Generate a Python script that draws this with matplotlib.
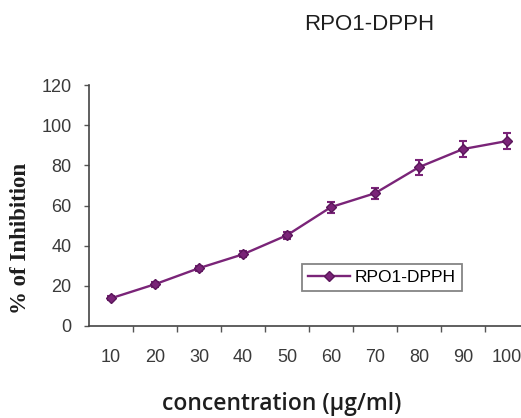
import numpy as np
import matplotlib
matplotlib.use('Agg')
import matplotlib.pyplot as plt

# data
concentration = ['10', '20', '30', '40', '50', '60', '70', '80', '90', '100']
inhibition = [13.8, 20.8, 28.8, 35.7, 45.2, 59.2, 66.1, 79.1, 88.1, 92.1]
errors = [1.0, 1.2, 1.3, 1.5, 1.8, 2.7, 2.7, 3.7, 3.9, 4.2]
series_name = 'RPO1-DPPH'

W, H = 521, 418
fig = plt.figure(figsize=(W / 100, H / 100), dpi=100)
ax = fig.add_axes([89 / W, (H - 326) / H, 440 / W, 241 / H])

x = np.arange(len(concentration))
purple = '#7a2478'
ax.errorbar(x, inhibition, yerr=errors, color=purple, marker='D', markersize=5,
            markeredgecolor='#5a165a', linewidth=1.7, elinewidth=1.5, capsize=3, capthick=1.5)
# legend handle without the error bar
ax.plot([], [], color=purple, marker='D', markersize=5, markeredgecolor='#5a165a',
        linewidth=1.7, label=series_name)

ax.set_xlim(-0.5, len(concentration) - 0.5)
ax.set_ylim(0, 120)
ax.set_yticks(np.arange(0, 121, 20))
ax.set_xticks(x)
ax.set_xticklabels(concentration, family='Liberation Sans')
ax.set_yticklabels([str(v) for v in range(0, 121, 20)], family='Liberation Sans')
ax.set_xticks(np.arange(0.5, len(concentration) - 0.5, 1), minor=True)
ax.tick_params(axis='x', which='major', length=0, pad=16.5, labelsize=13, labelcolor='#3a3a3a')
ax.tick_params(axis='x', which='minor', length=4.5, width=1, direction='out', color='#555555')
ax.tick_params(axis='y', length=3.5, width=1, direction='out', pad=9, labelsize=13,
               labelcolor='#3a3a3a', color='#555555')
for s in ['top', 'right']:
    ax.spines[s].set_visible(False)
ax.spines['left'].set_color('#444444')
ax.spines['bottom'].set_color('#444444')
ax.spines['left'].set_linewidth(1.2)
ax.spines['bottom'].set_linewidth(1.2)

fig.text(369 / W, 1 - 24 / H, 'RPO1-DPPH', ha='center', va='center', fontsize=16,
         family='Liberation Sans', color='#1e1e1e')
fig.text(21 / W, 1 - 238 / H, '% of Inhibition', rotation=90, ha='center', va='center',
         fontsize=16.5, fontweight='bold', family='Liberation Serif', color='#1e1e1e')
fig.text(282 / W, 1 - 404 / H, 'concentration (μg/ml)', ha='center', va='center',
         fontsize=16.5, family='Open Sans', fontweight='semibold', color='#1e1e1e')

leg = ax.legend(loc='upper left', bbox_to_anchor=((302 - 89) / 440, (326 - 264) / 241),
                frameon=True, fancybox=False, handlelength=2.4,
                handletextpad=0.3, borderpad=0.35, borderaxespad=0,
                edgecolor='#666666', prop={'family': 'Liberation Sans', 'size': 12.5})
leg.get_frame().set_linewidth(1.3)

fig.savefig('out.png', dpi=100)
